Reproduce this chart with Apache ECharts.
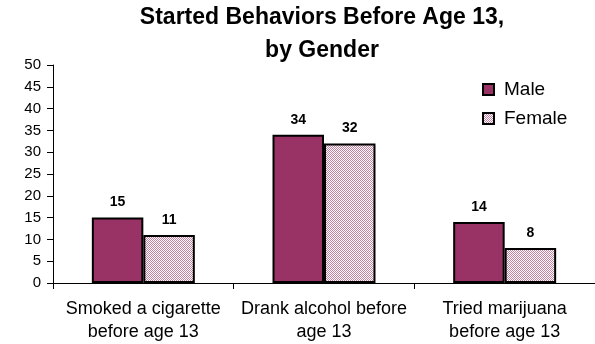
<!DOCTYPE html>
<html>
<head>
<meta charset="utf-8">
<script src="https://cdn.jsdelivr.net/npm/echarts@6/dist/echarts.min.js"></script>
<style>
  html, body { margin: 0; padding: 0; background: #fff; }
  #chart { width: 595px; height: 344px; }
</style>
</head>
<body>
<div id="chart"></div>
<script>
// chart data
const categories = ['Smoked a cigarette\nbefore age 13', 'Drank alcohol before\nage 13', 'Tried marijuana\nbefore age 13']
const maleValues = [15, 34, 14]
const femaleValues = [11, 32, 8]
const yTicks = [0, 5, 10, 15, 20, 25, 30, 35, 40, 45, 50]

const FONT = 'Liberation Sans, Arial, sans-serif'

// small checker tile for the female bars
function makeChecker() {
  const c = document.createElement('canvas')
  c.width = 2
  c.height = 2
  const ctx = c.getContext('2d')
  ctx.fillStyle = '#ffffff'
  ctx.fillRect(0, 0, 2, 2)
  ctx.fillStyle = '#c8829f'
  ctx.fillRect(0, 0, 1, 1)
  ctx.fillRect(1, 1, 1, 1)
  return c
}

const chart = echarts.init(document.getElementById('chart'))
const labelStyle = {
  show: true,
  position: 'top',
  distance: 8,
  color: '#000',
  fontFamily: FONT,
  fontWeight: 'bold',
  fontSize: 14,
}

const option = {
  animation: false,
  title: {
    text: 'Started Behaviors Before Age 13,\nby Gender',
    left: 322,
    top: 1,
    padding: 0,
    textAlign: 'center',
    textStyle: { fontFamily: FONT, fontWeight: 'bold', fontSize: 23, lineHeight: 33, color: '#000' },
  },
  legend: {
    orient: 'vertical',
    left: 482,
    top: 80,
    padding: 0,
    itemWidth: 11,
    itemHeight: 11,
    itemGap: 10,
    icon: 'rect',
    textStyle: { fontFamily: FONT, fontSize: 19, color: '#000', padding: [0, 0, 0, 5] },
    data: ['Male', 'Female'],
  },
  grid: {
    left: 53,
    top: 65,
    width: 549,
    height: 218,
    containLabel: false,
  },
  xAxis: {
    type: 'category',
    data: categories,
    axisLine: { lineStyle: { color: '#000', width: 1 } },
    axisTick: { show: true, length: 6, lineStyle: { color: '#000' } },
    axisLabel: {
      color: '#000',
      fontFamily: FONT,
      fontSize: 18,
      lineHeight: 23,
      margin: 15,
      interval: 0,
    },
  },
  yAxis: {
    type: 'value',
    min: yTicks[0],
    max: yTicks[yTicks.length - 1],
    interval: 5,
    axisLine: { show: true, lineStyle: { color: '#000', width: 1 } },
    axisTick: { show: true, length: 6, lineStyle: { color: '#000' } },
    splitLine: { show: false },
    axisLabel: {
      color: '#000',
      fontFamily: FONT,
      fontSize: 15,
      margin: 12,
    },
  },
  series: [
    {
      name: 'Male',
      type: 'bar',
      data: maleValues,
      barGap: '0%',
      barCategoryGap: '43%',
      itemStyle: { color: '#993366', borderColor: '#000', borderWidth: 2 },
      label: labelStyle,
    },
    {
      name: 'Female',
      type: 'bar',
      data: femaleValues,
      itemStyle: {
        color: { image: makeChecker(), repeat: 'repeat' },
        borderColor: '#000',
        borderWidth: 2,
      },
      label: labelStyle,
    },
  ],
}

chart.setOption(option)
</script>
</body>
</html>
